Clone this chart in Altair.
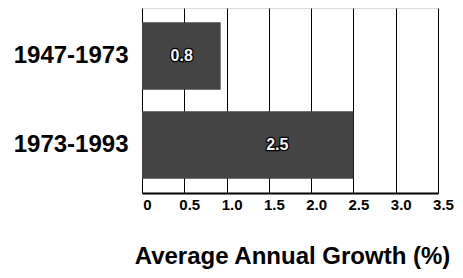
import altair as alt
import pandas as pd

periods = ["1947-1973", "1973-1993"]
bar_values = [0.93, 2.5]
bar_labels = ["0.8", "2.5"]
label_at = [0.47, 1.6]
x_ticks = [0, 0.5, 1.0, 1.5, 2.0, 2.5, 3.0, 3.5]

df = pd.DataFrame({"period": periods, "value": bar_values,
                   "label": bar_labels, "label_at": label_at})

FONT = "Liberation Sans"

x_scale = alt.Scale(domain=[0, 3.5], nice=False, zero=True)
y_scale = alt.Scale(domain=periods, paddingInner=0.24, paddingOuter=0.16)

bars = alt.Chart(df).mark_bar(color="#444444").encode(
    x=alt.X("value:Q", scale=x_scale,
            axis=alt.Axis(values=x_ticks,
                          labelExpr="datum.value == 0 ? '0' : format(datum.value, '.1f')",
                          title="Average Annual Growth (%)",
                          grid=True, gridColor="#000000", gridWidth=1, gridOpacity=1,
                          ticks=False, domain=True, domainColor="#000000", domainWidth=2,
                          labelFont=FONT, labelFontWeight=900, labelFontSize=15,
                          labelColor="#000000", labelBaseline="top", labelPadding=4,
                          labelOffset=5, labelFlush=False,
                          titleFont=FONT, titleFontWeight=900, titleFontSize=24,
                          titleColor="#000000", titleAnchor="start", titleAlign="center",
                          titleX=150, titleY=70, titleBaseline="alphabetic")),
    y=alt.Y("period:N", scale=y_scale, sort=periods,
            axis=alt.Axis(title=None, ticks=False, domain=False, grid=False,
                          labelFont=FONT, labelFontWeight=900, labelFontSize=24,
                          labelColor="#000000", labelPadding=14)),
)

texts = alt.Chart(df).mark_text(font=FONT, fontWeight=900, fontSize=16,
                                color="#f4f4f4", stroke="#000000", strokeWidth=2.5,
                                ).encode(
    x=alt.X("label_at:Q", scale=x_scale),
    y=alt.Y("period:N", scale=y_scale, sort=periods),
    text="label:N",
)

texts_fill = alt.Chart(df).mark_text(font=FONT, fontWeight=900, fontSize=16,
                                     color="#f4f4f4").encode(
    x=alt.X("label_at:Q", scale=x_scale),
    y=alt.Y("period:N", scale=y_scale, sort=periods),
    text="label:N",
)

chart = alt.layer(bars, texts, texts_fill).properties(
    width=296, height=185,
    autosize=alt.AutoSizeParams(type="none"),
    padding={"left": 134, "top": 0, "right": 17, "bottom": 77},
).configure_view(stroke="#000000", strokeWidth=1.5).configure(background="#ffffff")

chart.save("out.html", embed_options={"renderer": "svg", "actions": False})
